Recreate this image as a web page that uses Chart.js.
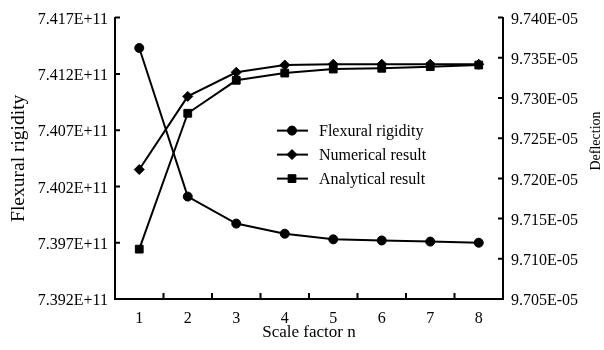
<!DOCTYPE html>
<html>
<head>
<meta charset="utf-8">
<script src="https://cdn.jsdelivr.net/npm/chart.js@4.4.0/dist/chart.umd.min.js"></script>
<style>
    body { margin: 0; background: #fff; }
</style>
</head>
<body>
<canvas id="myChart" width="604" height="350"></canvas>
<script>
const scaleFactors = ['1', '2', '3', '4', '5', '6', '7', '8'];
// flexural rigidity, in units of 1E+11
const flexuralRigidity = [7.4143, 7.4011, 7.3987, 7.3978, 7.3973, 7.3972, 7.3971, 7.3970];
// deflection, in units of 1E-05
const numericalResult = [9.7211, 9.7302, 9.7332, 9.7341, 9.7342, 9.7342, 9.7342, 9.7342];
const analyticalResult = [9.7112, 9.7281, 9.7322, 9.7331, 9.7336, 9.7337, 9.7339, 9.7341];
// axis ranges: min, max, step
const rigidityAxis = [7.392, 7.417, 0.005];
const deflectionAxis = [9.705, 9.740, 0.005];

Chart.defaults.font.family = '"Liberation Serif", "Times New Roman", serif';
Chart.defaults.color = '#000';

// inward tick marks, right axis title, legend inside the plot
const extras = {
    id: 'extras',
    afterDraw(chart) {
        const ctx = chart.ctx;
        const area = chart.chartArea;
        const x = chart.scales.x, yL = chart.scales.yL, yR = chart.scales.yR;
        ctx.save();
        ctx.strokeStyle = '#000';
        ctx.fillStyle = '#000';
        ctx.lineWidth = 2;
        ctx.beginPath();
        yL.ticks.forEach((t, i) => {
            const py = yL.getPixelForTick(i);
            ctx.moveTo(area.left, py);
            ctx.lineTo(area.left + 5, py);
        });
        yR.ticks.forEach((t, i) => {
            const py = yR.getPixelForTick(i);
            ctx.moveTo(area.right - 5, py);
            ctx.lineTo(area.right, py);
        });
        for (let i = 1; i < scaleFactors.length; i++) {
            const px = x.getPixelForValue(i - 0.5);
            ctx.moveTo(px, area.bottom);
            ctx.lineTo(px, area.bottom - 6);
        }
        ctx.stroke();

        // legend
        ctx.font = '16px "Liberation Serif"';
        ctx.textAlign = 'left';
        ctx.textBaseline = 'middle';
        chart.data.datasets.forEach((ds, i) => {
            const ly = area.top + 113 + i * 24;
            const lx = area.left + 162;
            ctx.beginPath();
            ctx.lineWidth = 2;
            ctx.moveTo(lx, ly);
            ctx.lineTo(lx + 31, ly);
            ctx.stroke();
            ctx.lineWidth = 1;
            Chart.helpers.drawPoint(ctx, {pointStyle: ds.pointStyle, radius: ds.pointRadius, rotation: 0, borderWidth: 1}, lx + 15, ly);
            ctx.fillText(ds.label, lx + 42, ly + 1);
        });

        // right axis title
        ctx.font = '14px "Liberation Serif"';
        ctx.textAlign = 'center';
        ctx.translate(596, 141);
        ctx.rotate(-Math.PI / 2);
        ctx.fillText('Deflection', 0, 0);
        ctx.restore();
    }
};

const ctx = document.getElementById('myChart').getContext('2d');
const myChart = new Chart(ctx, {
    type: 'line',
    data: {
        labels: scaleFactors,
        datasets: [{
            label: 'Flexural rigidity',
            data: flexuralRigidity,
            yAxisID: 'yL',
            borderColor: '#000',
            backgroundColor: '#000',
            borderWidth: 2,
            pointStyle: 'circle',
            pointRadius: 4.5,
            pointBorderWidth: 1,
        }, {
            label: 'Numerical result',
            data: numericalResult,
            yAxisID: 'yR',
            borderColor: '#000',
            backgroundColor: '#000',
            borderWidth: 2,
            pointStyle: 'rectRot',
            pointRadius: 5,
            pointBorderWidth: 1,
        }, {
            label: 'Analytical result',
            data: analyticalResult,
            yAxisID: 'yR',
            borderColor: '#000',
            backgroundColor: '#000',
            borderWidth: 2,
            pointStyle: 'rect',
            pointRadius: 5.5,
            pointBorderWidth: 1,
        }]
    },
    options: {
        responsive: false,
        animation: false,
        devicePixelRatio: 1,
        layout: { padding: { top: 13, left: 0, right: 0, bottom: 0 } },
        plugins: {
            legend: { display: false },
            tooltip: { enabled: false }
        },
        scales: {
            x: {
                offset: true,
                grid: { display: false, drawTicks: false },
                border: { display: true, color: '#000', width: 2 },
                ticks: { padding: 10, font: { size: 16 } },
                title: {
                    display: true,
                    text: 'Scale factor n',
                    font: { size: 17 },
                    padding: { top: 0, bottom: 7 }
                },
                afterFit: s => { s.height = 51; }
            },
            yL: {
                position: 'left',
                min: rigidityAxis[0],
                max: rigidityAxis[1],
                grid: { display: false, drawTicks: false },
                border: { display: true, color: '#000', width: 2 },
                ticks: {
                    stepSize: rigidityAxis[2],
                    padding: 7,
                    labelOffset: 2,
                    font: { size: 16 },
                    callback: v => v.toFixed(3) + 'E+11'
                },
                title: {
                    display: true,
                    text: 'Flexural rigidity',
                    font: { size: 19.5 },
                    padding: { top: 7, bottom: 0 }
                },
                afterFit: s => { s.width = 115; }
            },
            yR: {
                position: 'right',
                min: deflectionAxis[0],
                max: deflectionAxis[1],
                grid: { display: false, drawTicks: false },
                border: { display: true, color: '#000', width: 2 },
                ticks: {
                    stepSize: deflectionAxis[2],
                    padding: 8,
                    labelOffset: 2,
                    font: { size: 16 },
                    callback: v => v.toFixed(3) + 'E-05'
                },
                afterFit: s => { s.width = 101; }
            }
        }
    },
    plugins: [extras]
});
</script>
</body>
</html>
